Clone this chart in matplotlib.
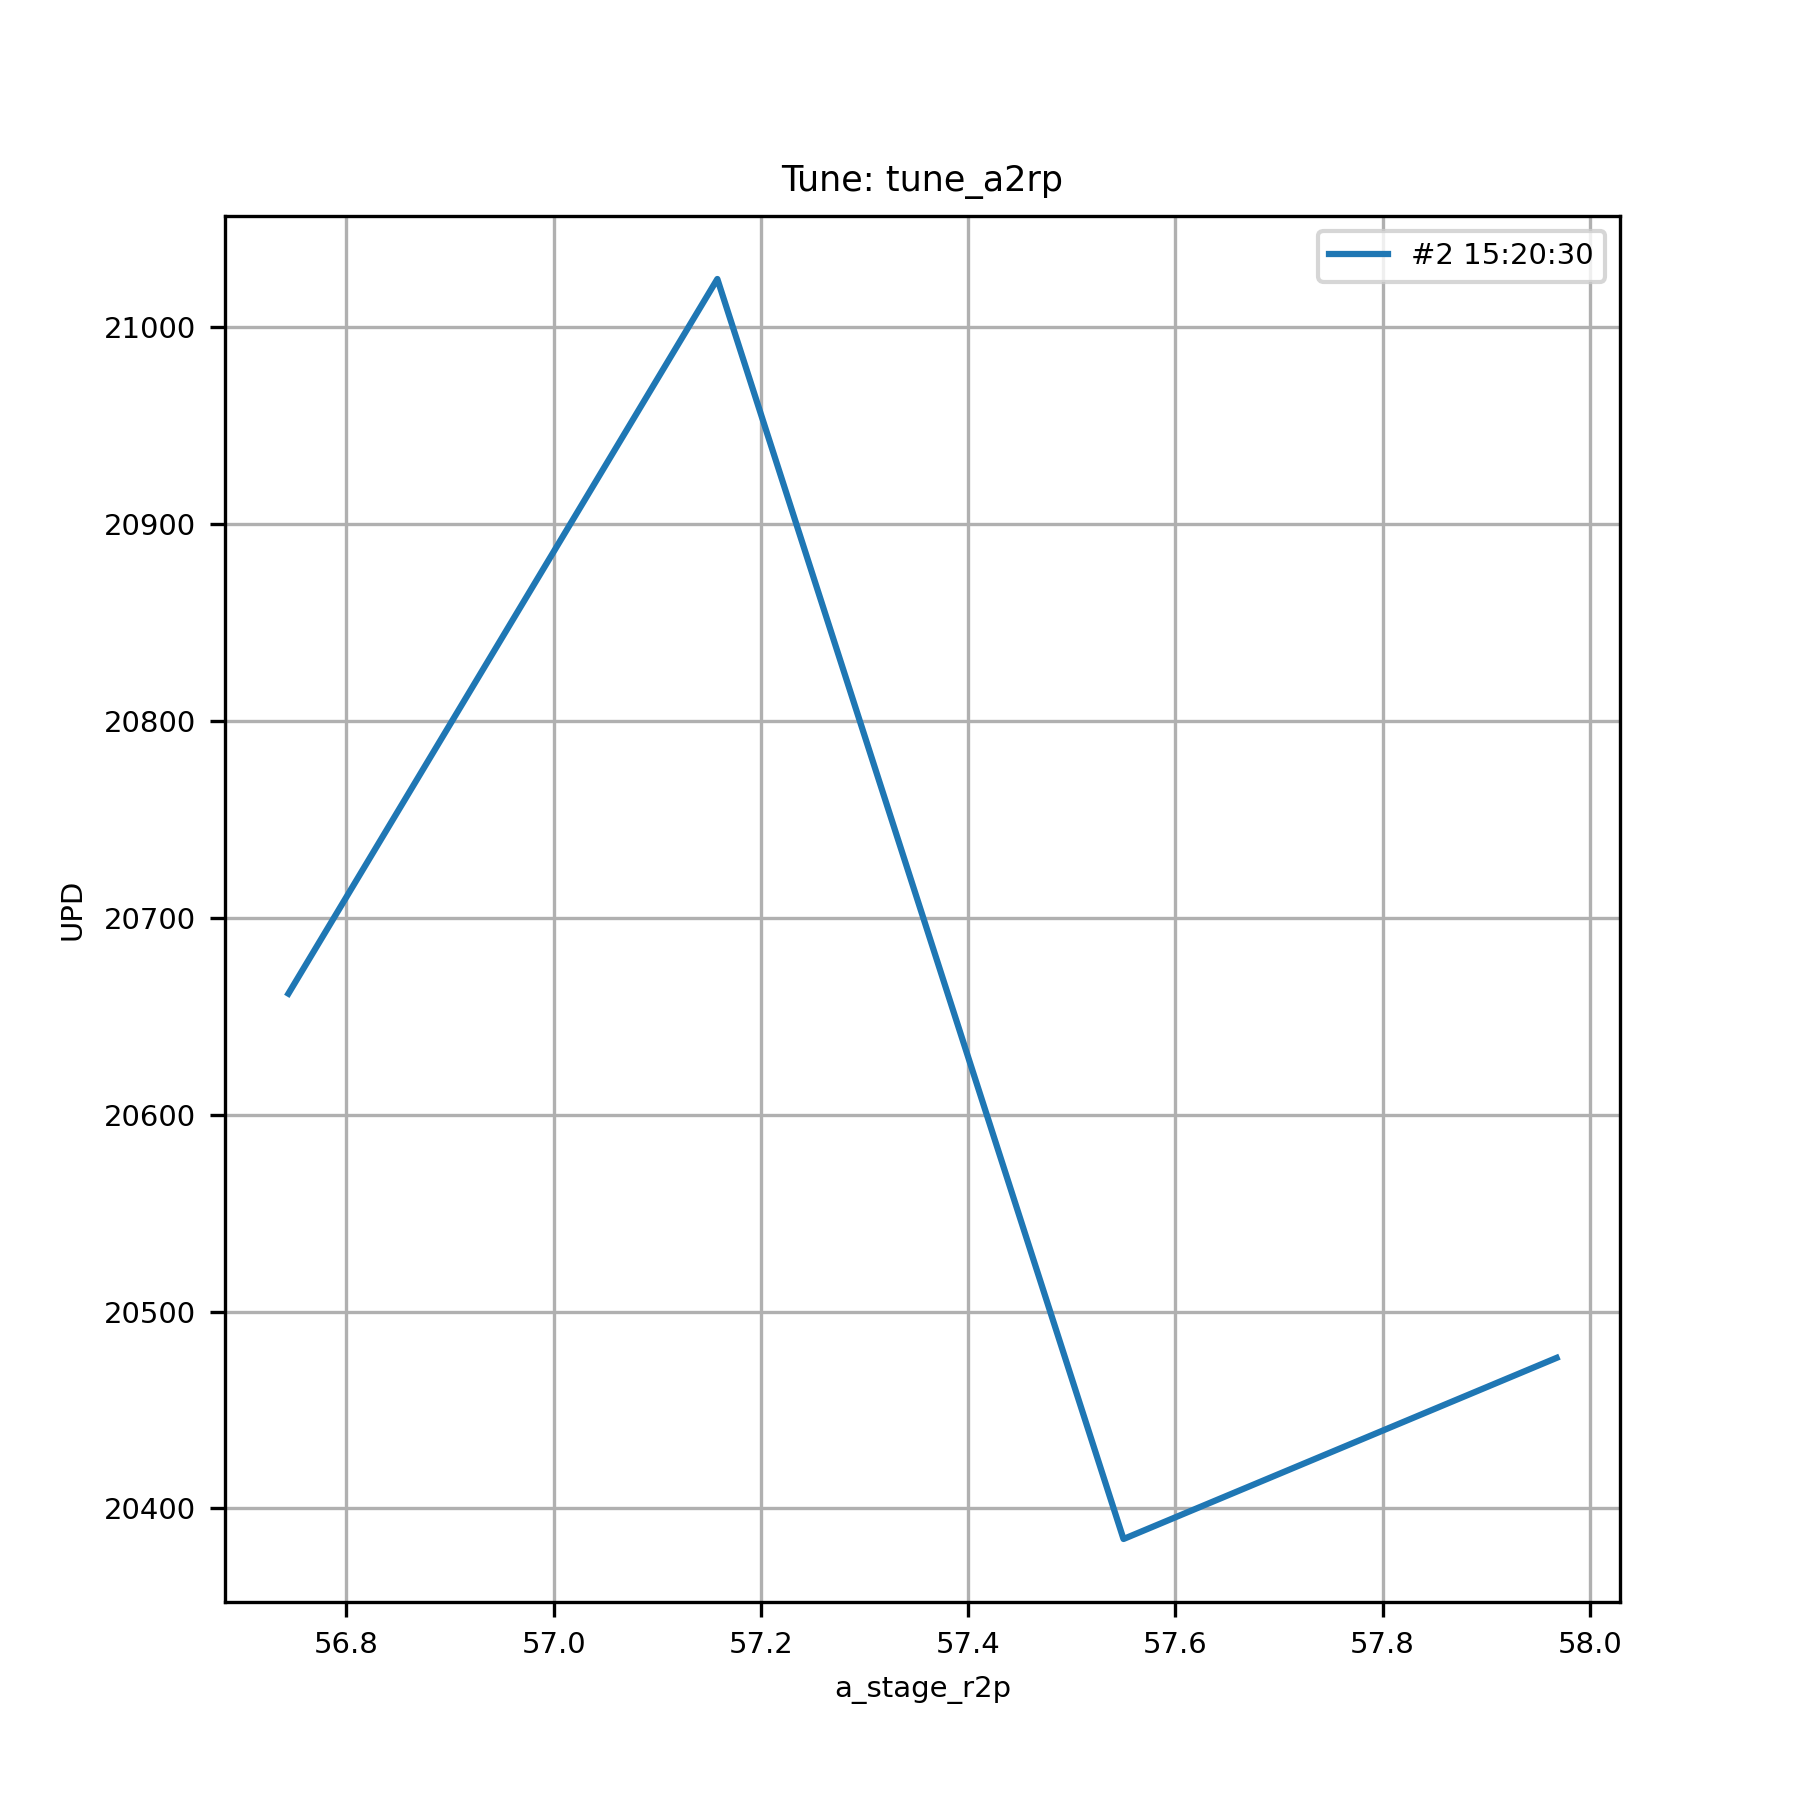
import matplotlib
matplotlib.use('Agg')
from matplotlib import pyplot as plt

# Tune scan data
stage_pos = [56.744, 57.158, 57.550, 57.968]
upd = [20661.5, 21024.5, 20384.5, 20476.5]
run_label = '#2 15:20:30'

fig = plt.figure(figsize=(6, 6), dpi=300)
ax = fig.add_subplot(111)
ax.plot(stage_pos, upd, label=run_label)

ax.set_title('Tune: tune_a2rp', fontsize=8.4)
ax.set_xlabel('a_stage_r2p', fontsize=7)
ax.set_ylabel('UPD', fontsize=7)
ax.tick_params(axis='both', which='major', labelsize=7)
ax.grid(True)
ax.legend(fontsize=7)

fig.savefig('out.png')
